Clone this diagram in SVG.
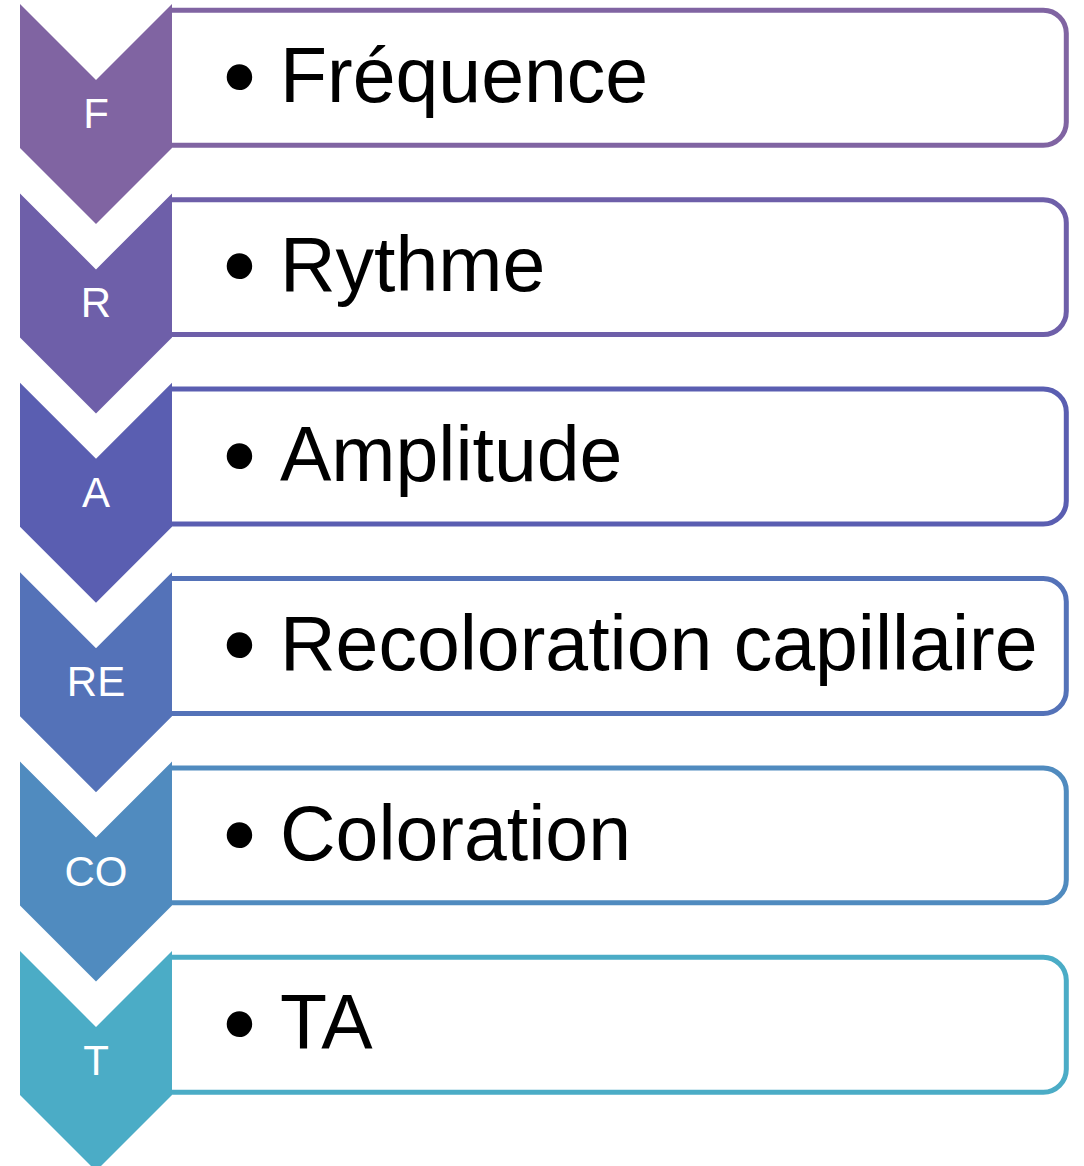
<svg xmlns="http://www.w3.org/2000/svg" width="1084" height="1166" viewBox="0 0 1084 1166">
<style>
.box{fill:#fff;stroke-width:5}
.lbl{font-family:"Liberation Sans",Arial,sans-serif;font-size:42px;fill:#fff;text-anchor:middle}
.txt{font-family:"Liberation Sans",Arial,sans-serif;font-size:77px;fill:#000}
.bul{font-size:94px}
</style>
<rect width="1084" height="1166" fill="#fff"/>
<g id="row1">
<path class="box" stroke="#8064A2" d="M172,10.3 H1043.3 A23,23 0 0 1 1066.3,33.3 V122.2 A23,23 0 0 1 1043.3,145.2 H172"/>
<polygon fill="#8064A2" points="20,4 96,80 172,4 172,148 96,224 20,148"/>
<text class="lbl" x="96" y="128">F</text>
<text class="txt"><tspan class="bul" x="223" y="109">•</tspan><tspan x="280" y="102">Fréquence</tspan></text>
</g>
<g id="row2" transform="translate(0,189.4)">
<path class="box" stroke="#6E5FA9" d="M172,10.3 H1043.3 A23,23 0 0 1 1066.3,33.3 V122.2 A23,23 0 0 1 1043.3,145.2 H172"/>
<polygon fill="#6E5FA9" points="20,4 96,80 172,4 172,148 96,224 20,148"/>
<text class="lbl" x="96" y="128">R</text>
<text class="txt"><tspan class="bul" x="223" y="109">•</tspan><tspan x="280" y="102">Rythme</tspan></text>
</g>
<g id="row3" transform="translate(0,378.8)">
<path class="box" stroke="#5A5EB1" d="M172,10.3 H1043.3 A23,23 0 0 1 1066.3,33.3 V122.2 A23,23 0 0 1 1043.3,145.2 H172"/>
<polygon fill="#5A5EB1" points="20,4 96,80 172,4 172,148 96,224 20,148"/>
<text class="lbl" x="96" y="128">A</text>
<text class="txt"><tspan class="bul" x="223" y="109">•</tspan><tspan x="280" y="102">Amplitude</tspan></text>
</g>
<g id="row4" transform="translate(0,568.2)">
<path class="box" stroke="#5472B8" d="M172,10.3 H1043.3 A23,23 0 0 1 1066.3,33.3 V122.2 A23,23 0 0 1 1043.3,145.2 H172"/>
<polygon fill="#5472B8" points="20,4 96,80 172,4 172,148 96,224 20,148"/>
<text class="lbl" x="96" y="128">RE</text>
<text class="txt"><tspan class="bul" x="223" y="109">•</tspan><tspan x="280" y="102">Recoloration capillaire</tspan></text>
</g>
<g id="row5" transform="translate(0,757.6)">
<path class="box" stroke="#508BBF" d="M172,10.3 H1043.3 A23,23 0 0 1 1066.3,33.3 V122.2 A23,23 0 0 1 1043.3,145.2 H172"/>
<polygon fill="#508BBF" points="20,4 96,80 172,4 172,148 96,224 20,148"/>
<text class="lbl" x="96" y="128">CO</text>
<text class="txt"><tspan class="bul" x="223" y="109">•</tspan><tspan x="280" y="102">Coloration</tspan></text>
</g>
<g id="row6" transform="translate(0,947)">
<path class="box" stroke="#4BACC6" d="M172,10.3 H1043.3 A23,23 0 0 1 1066.3,33.3 V122.2 A23,23 0 0 1 1043.3,145.2 H172"/>
<polygon fill="#4BACC6" points="20,4 96,80 172,4 172,148 96,224 20,148"/>
<text class="lbl" x="96" y="128">T</text>
<text class="txt"><tspan class="bul" x="223" y="109">•</tspan><tspan x="280" y="102">TA</tspan></text>
</g>
<g id="connectors"></g>
</svg>
